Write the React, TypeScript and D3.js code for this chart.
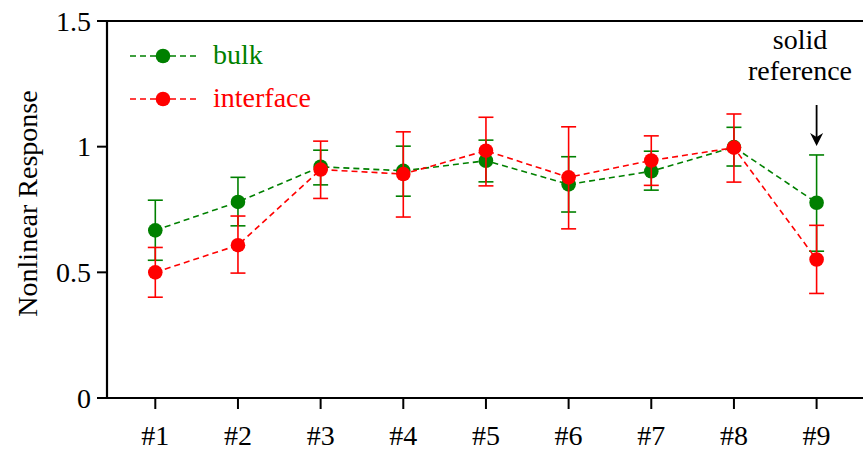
import React from "react";
import * as d3 from "d3";

const categories = ["#1", "#2", "#3", "#4", "#5", "#6", "#7", "#8", "#9"];
const bulkValues = [0.667, 0.78, 0.92, 0.904, 0.944, 0.85, 0.902, 0.998, 0.777];
const bulkLow = [0.548, 0.685, 0.848, 0.803, 0.86, 0.74, 0.827, 0.923, 0.584];
const bulkHigh = [0.787, 0.878, 0.986, 1.002, 1.026, 0.96, 0.982, 1.077, 0.967];
const ifaceValues = [0.5, 0.608, 0.909, 0.891, 0.984, 0.878, 0.945, 0.996, 0.551];
const ifaceLow = [0.401, 0.497, 0.794, 0.72, 0.844, 0.673, 0.846, 0.859, 0.416];
const ifaceHigh = [0.599, 0.724, 1.022, 1.059, 1.117, 1.079, 1.043, 1.13, 0.687];
const yTicks = [0, 0.5, 1, 1.5];

const W = 863;
const H = 450;
const margin = { left: 107, right: 0, top: 21, bottom: 52 };
const font = "'Liberation Serif', 'Times New Roman', serif";
const FS = 28;
const GREEN = "#008000";
const RED = "#ff0000";

const x = d3
  .scalePoint<string>()
  .domain(categories)
  .range([155.3, 816.6]);
const y = d3
  .scaleLinear()
  .domain([0, 1.5])
  .range([H - margin.bottom, margin.top]);

const line = d3
  .line<number>()
  .x((_, i) => x(categories[i]) as number)
  .y((d) => y(d));

const Series = ({ values, low, high, color }) => (
  <g>
    <path
      d={line(values) || ""}
      fill="none"
      stroke={color}
      strokeWidth={1.6}
      strokeDasharray="6,4"
    />
    {values.map((v, i) => {
      const cx = x(categories[i]) as number;
      return (
        <g key={i} stroke={color} strokeWidth={1.6}>
          <line x1={cx} x2={cx} y1={y(low[i])} y2={y(high[i])} />
          <line x1={cx - 7.5} x2={cx + 7.5} y1={y(low[i])} y2={y(low[i])} />
          <line x1={cx - 7.5} x2={cx + 7.5} y1={y(high[i])} y2={y(high[i])} />
          <circle cx={cx} cy={y(v)} r={7.3} fill={color} stroke="none" />
        </g>
      );
    })}
  </g>
);

export default function App() {
  const x0 = margin.left;
  const yBottom = H - margin.bottom;
  const ax9 = x("#9") as number;
  return (
    <svg width={W} height={H} style={{ position: "absolute", left: 0, top: 0 }} fontFamily={font}>
      {/* axes frame */}
      <line x1={x0} x2={W} y1={margin.top} y2={margin.top} stroke="#000" strokeWidth={2.2} />
      <line x1={x0} x2={x0} y1={margin.top - 1.1} y2={yBottom + 1.1} stroke="#000" strokeWidth={2.2} />
      <line x1={x0} x2={W} y1={yBottom} y2={yBottom} stroke="#000" strokeWidth={2.2} />

      {yTicks.map((t) => (
        <g key={t}>
          <line x1={x0 - 10} x2={x0} y1={y(t)} y2={y(t)} stroke="#000" strokeWidth={2} />
          <text x={x0 - 16} y={y(t) + 9.5} textAnchor="end" fontSize={FS}>
            {t}
          </text>
        </g>
      ))}
      {categories.map((c) => (
        <g key={c}>
          <line x1={x(c)} x2={x(c)} y1={yBottom} y2={yBottom + 11} stroke="#000" strokeWidth={2} />
          <text x={x(c)} y={yBottom + 47} textAnchor="middle" fontSize={FS}>
            {c}
          </text>
        </g>
      ))}

      <text
        transform={`translate(37, ${(margin.top + yBottom) / 2 - 6}) rotate(-90)`}
        textAnchor="middle"
        fontSize={FS}
      >
        Nonlinear Response
      </text>

      <Series values={bulkValues} low={bulkLow} high={bulkHigh} color={GREEN} />
      <Series values={ifaceValues} low={ifaceLow} high={ifaceHigh} color={RED} />

      {/* legend */}
      {[
        { label: "bulk", color: GREEN, ly: 56 },
        { label: "interface", color: RED, ly: 99 },
      ].map((d) => (
        <g key={d.label}>
          <line x1={130} x2={197} y1={d.ly} y2={d.ly} stroke={d.color} strokeWidth={1.6} strokeDasharray="6,4" />
          <circle cx={163} cy={d.ly} r={7.3} fill={d.color} />
          <text x={213} y={d.ly + 8} fontSize={FS} fill={d.color}>
            {d.label}
          </text>
        </g>
      ))}

      {/* annotation */}
      <text x={800} y={49} textAnchor="middle" fontSize={FS}>
        solid
      </text>
      <text x={800} y={80} textAnchor="middle" fontSize={FS}>
        reference
      </text>
      <line x1={ax9} x2={ax9} y1={105} y2={138} stroke="#000" strokeWidth={1.8} />
      <path
        d={`M${ax9 - 6.5},${133} L${ax9},${146} L${ax9 + 6.5},${133} L${ax9},${137} Z`}
        fill="#000"
      />
    </svg>
  );
}
